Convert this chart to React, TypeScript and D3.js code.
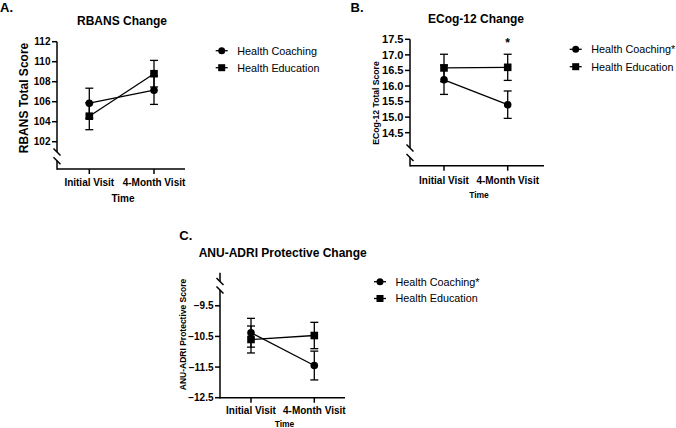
import React from "react";
import * as d3 from "d3";

const timepoints = ["Initial Visit", "4-Month Visit"];
const seriesNames = ["Health Coaching", "Health Education"];

const rbansCoachingMean = [105.85, 107.15];
const rbansCoachingErr = [1.5, 1.42];
const rbansEducationMean = [104.55, 108.8];
const rbansEducationErr = [1.35, 1.33];
const rbansTicks = [102, 104, 106, 108, 110, 112];

const ecogCoachingMean = [16.2, 15.4];
const ecogCoachingErr = [0.47, 0.44];
const ecogEducationMean = [16.58, 16.6];
const ecogEducationErr = [0.44, 0.42];
const ecogTicks = [14.5, 15.0, 15.5, 16.0, 16.5, 17.0, 17.5];

const anuCoachingMean = [-10.38, -11.45];
const anuCoachingErr = [0.47, 0.47];
const anuEducationMean = [-10.6, -10.47];
const anuEducationErr = [0.44, 0.43];
const anuTicks = [-12.5, -11.5, -10.5, -9.5];

const FONT = "'Liberation Sans', Arial, Helvetica, sans-serif";

type PanelCfg = {
  letter: string;
  letterX: number;
  letterY: number;
  title: string;
  titleX: number;
  titleY: number;
  axisX: number;
  axisEndX: number;
  axisY: number;
  xInit: number;
  xFour: number;
  yDomain: [number, number];
  yRange: [number, number];
  ticks: number[];
  tickFmt: (v: number) => string;
  tickFont: number;
  breakA: number;
  breakB: number;
  breakTop: boolean;
  ylabel: string;
  ylabelX: number;
  ylabelY: number;
  ylabelFont: number;
  xTickY: number;
  timeY: number;
  timeFont: number;
  coach: number[];
  coachErr: number[];
  edu: number[];
  eduErr: number[];
  legendX: number;
  legendY: number;
  legendGap: number;
  coachStar: boolean;
  starAt?: number;
};

function Slash({ x, y }: { x: number; y: number }) {
  return <line x1={x - 3.5} y1={y - 3.5} x2={x + 3.5} y2={y + 3.5} stroke="#000" strokeWidth={1.5} />;
}

function Panel({ c }: { c: PanelCfg }) {
  const y = d3.scaleLinear().domain(c.yDomain).range(c.yRange);
  const x = d3.scalePoint<string>().domain(timepoints).range([c.xInit, c.xFour]);
  const line = d3
    .line<number>()
    .x((_, i) => x(timepoints[i]) as number)
    .y((d) => y(d));
  const series = [
    { mean: c.coach, err: c.coachErr, shape: "circle" },
    { mean: c.edu, err: c.eduErr, shape: "square" },
  ];
  const topY = c.yRange[1];
  const botY = c.yRange[0];
  return (
    <g fontFamily={FONT}>
      <text x={c.letterX} y={c.letterY} fontSize={13} fontWeight="bold">
        {c.letter}
      </text>
      <text x={c.titleX} y={c.titleY} fontSize={12} fontWeight="bold" textAnchor="middle">
        {c.title}
      </text>
      {/* y axis with break */}
      {c.breakTop ? (
        <>
          <line x1={c.axisX} x2={c.axisX} y1={topY} y2={c.breakA} stroke="#000" strokeWidth={1.5} />
          <line x1={c.axisX} x2={c.axisX} y1={c.breakB} y2={botY + 0.75} stroke="#000" strokeWidth={1.5} />
        </>
      ) : (
        <>
          <line x1={c.axisX} x2={c.axisX} y1={topY} y2={c.breakA} stroke="#000" strokeWidth={1.5} />
          <line x1={c.axisX} x2={c.axisX} y1={c.breakB} y2={botY + 0.75} stroke="#000" strokeWidth={1.5} />
        </>
      )}
      <Slash x={c.axisX} y={c.breakA} />
      <Slash x={c.axisX} y={c.breakB} />
      {/* x axis */}
      <line x1={c.axisX} x2={c.axisEndX} y1={botY} y2={botY} stroke="#000" strokeWidth={1.5} />
      {c.ticks.map((t) => (
        <g key={t}>
          <line x1={c.axisX - 5} x2={c.axisX} y1={y(t)} y2={y(t)} stroke="#000" strokeWidth={1.5} />
          <text
            x={c.axisX - 6.5}
            y={y(t)}
            dy="0.35em"
            textAnchor="end"
            fontSize={c.tickFont}
            fontWeight="bold"
          >
            {c.tickFmt(t)}
          </text>
        </g>
      ))}
      {timepoints.map((tp) => (
        <g key={tp}>
          <line x1={x(tp)} x2={x(tp)} y1={botY} y2={botY + 5} stroke="#000" strokeWidth={1.5} />
          <text x={x(tp)} y={c.xTickY} textAnchor="middle" fontSize={10} fontWeight="bold">
            {tp}
          </text>
        </g>
      ))}
      <text
        x={(c.axisX + c.axisEndX) / 2 + 2}
        y={c.timeY}
        textAnchor="middle"
        fontSize={c.timeFont}
        fontWeight="bold"
      >
        Time
      </text>
      <text
        transform={`translate(${c.ylabelX},${c.ylabelY}) rotate(-90)`}
        dy="0.35em"
        textAnchor="middle"
        fontSize={c.ylabelFont}
        fontWeight="bold"
      >
        {c.ylabel}
      </text>
      {/* series */}
      {series.map((s, si) => (
        <g key={si}>
          <path d={line(s.mean) || ""} fill="none" stroke="#000" strokeWidth={1.3} />
          {s.mean.map((m, i) => {
            const cx = x(timepoints[i]) as number;
            const y1 = y(m + s.err[i]);
            const y2 = y(m - s.err[i]);
            return (
              <g key={i}>
                <line x1={cx} x2={cx} y1={y1} y2={y2} stroke="#000" strokeWidth={1.3} />
                <line x1={cx - 4} x2={cx + 4} y1={y1} y2={y1} stroke="#000" strokeWidth={1.3} />
                <line x1={cx - 4} x2={cx + 4} y1={y2} y2={y2} stroke="#000" strokeWidth={1.3} />
                {s.shape === "circle" ? (
                  <circle cx={cx} cy={y(m)} r={3.8} fill="#000" />
                ) : (
                  <rect x={cx - 3.8} y={y(m) - 3.8} width={7.6} height={7.6} fill="#000" />
                )}
              </g>
            );
          })}
        </g>
      ))}
      {c.starAt !== undefined && (
        <text
          x={x(timepoints[c.starAt])}
          y={y(c.edu[c.starAt] + c.eduErr[c.starAt]) - 7}
          textAnchor="middle"
          fontSize={12}
          fontWeight="bold"
        >
          *
        </text>
      )}
      {/* legend */}
      {seriesNames.map((name, i) => {
        const ly = c.legendY + i * c.legendGap;
        const lx = c.legendX;
        return (
          <g key={name}>
            <line x1={lx - 6} x2={lx + 6} y1={ly} y2={ly} stroke="#000" strokeWidth={1.3} />
            {i === 0 ? (
              <circle cx={lx} cy={ly} r={3.5} fill="#000" />
            ) : (
              <rect x={lx - 3.5} y={ly - 3.5} width={7} height={7} fill="#000" />
            )}
            <text x={lx + 15.5} y={ly} dy="0.36em" fontSize={10.8}>
              {name}
              {i === 0 && c.coachStar ? "*" : ""}
            </text>
          </g>
        );
      })}
    </g>
  );
}

const fmt1 = d3.format(".1f");
const fmt0 = d3.format("d");

const panels: PanelCfg[] = [
  {
    letter: "A.",
    letterX: 0,
    letterY: 12,
    title: "RBANS Change",
    titleX: 122,
    titleY: 25,
    axisX: 57,
    axisEndX: 185,
    axisY: 169,
    xInit: 89.3,
    xFour: 154,
    yDomain: [99.27, 112],
    yRange: [169, 41.7],
    ticks: rbansTicks,
    tickFmt: (v) => fmt0(v),
    tickFont: 10,
    breakA: 152,
    breakB: 160.7,
    breakTop: false,
    ylabel: "RBANS Total Score",
    ylabelX: 24,
    ylabelY: 98,
    ylabelFont: 12,
    xTickY: 186,
    timeY: 201.5,
    timeFont: 10,
    coach: rbansCoachingMean,
    coachErr: rbansCoachingErr,
    edu: rbansEducationMean,
    eduErr: rbansEducationErr,
    legendX: 221.7,
    legendY: 50.7,
    legendGap: 17,
    coachStar: false,
  },
  {
    letter: "B.",
    letterX: 350.5,
    letterY: 12,
    title: "ECog-12 Change",
    titleX: 476,
    titleY: 22.7,
    axisX: 410,
    axisEndX: 544,
    axisY: 165.7,
    xInit: 444,
    xFour: 507.7,
    yDomain: [13.44, 17.5],
    yRange: [165.7, 39.3],
    ticks: ecogTicks,
    tickFmt: (v) => fmt1(v),
    tickFont: 11,
    breakA: 148,
    breakB: 157.5,
    breakTop: false,
    ylabel: "ECog-12 Total Score",
    ylabelX: 375.8,
    ylabelY: 103,
    ylabelFont: 8.6,
    xTickY: 183.5,
    timeY: 197.7,
    timeFont: 8.5,
    coach: ecogCoachingMean,
    coachErr: ecogCoachingErr,
    edu: ecogEducationMean,
    eduErr: ecogEducationErr,
    legendX: 575.7,
    legendY: 49.3,
    legendGap: 17.4,
    coachStar: true,
    starAt: 1,
  },
  {
    letter: "C.",
    letterX: 179.3,
    letterY: 240,
    title: "ANU-ADRI Protective Change",
    titleX: 282.7,
    titleY: 257,
    axisX: 220,
    axisEndX: 345,
    axisY: 397.7,
    xInit: 251,
    xFour: 314.3,
    yDomain: [-12.5, -8.42],
    yRange: [397.7, 272.7],
    ticks: anuTicks,
    tickFmt: (v) => fmt1(v),
    tickFont: 10,
    breakA: 281.5,
    breakB: 290,
    breakTop: true,
    ylabel: "ANU-ADRI Protective Score",
    ylabelX: 183,
    ylabelY: 334.5,
    ylabelFont: 8.5,
    xTickY: 414,
    timeY: 426.5,
    timeFont: 8.5,
    coach: anuCoachingMean,
    coachErr: anuCoachingErr,
    edu: anuEducationMean,
    eduErr: anuEducationErr,
    legendX: 380,
    legendY: 281.7,
    legendGap: 16.8,
    coachStar: true,
  },
];

export default function App() {
  return (
    <svg
      width={676}
      height={428}
      style={{ position: "absolute", left: 0, top: 0, background: "#fff" }}
    >
      <rect width={676} height={428} fill="#fff" />
      {panels.map((p) => (
        <Panel key={p.letter} c={p} />
      ))}
    </svg>
  );
}
